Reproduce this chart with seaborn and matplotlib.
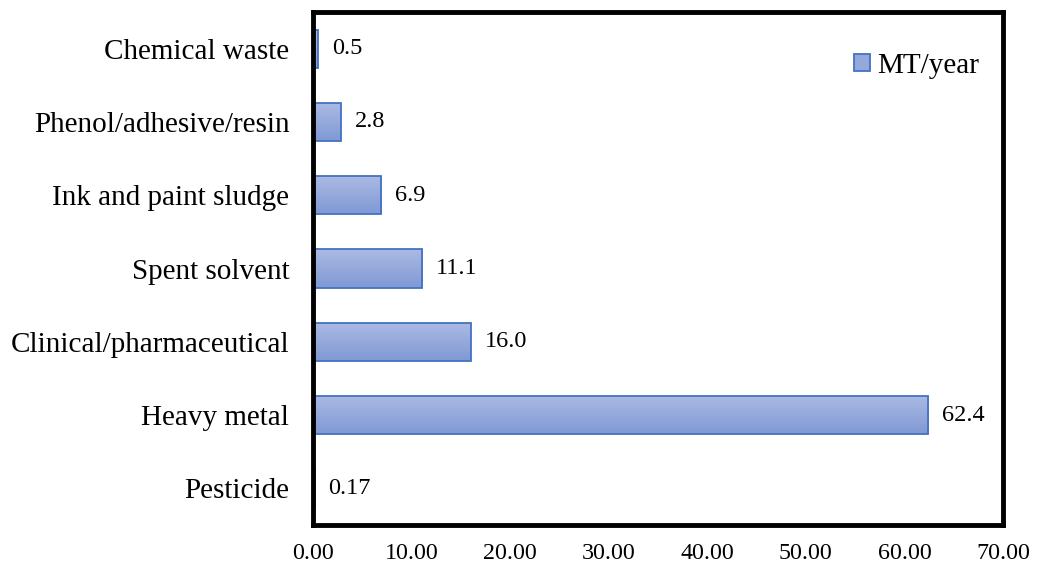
import numpy as np
import pandas as pd
import matplotlib
matplotlib.use("Agg")
import matplotlib.pyplot as plt
import seaborn as sns
from matplotlib.patches import Patch
from matplotlib.colors import LinearSegmentedColormap

categories = ["Chemical waste", "Phenol/adhesive/resin", "Ink and paint sludge",
              "Spent solvent", "Clinical/pharmaceutical", "Heavy metal", "Pesticide"]
values = [0.5, 2.8, 6.9, 11.1, 16.0, 62.4, 0.17]
decimals = [1, 1, 1, 1, 1, 1, 2]
xticks = [0, 10, 20, 30, 40, 50, 60, 70]
series_name = "MT/year"

sns.set_theme(style="white")
plt.rcParams["font.family"] = ["Liberation Serif", "DejaVu Serif"]
plt.rcParams["text.color"] = "black"
plt.rcParams["xtick.color"] = "black"
plt.rcParams["ytick.color"] = "black"

df = pd.DataFrame({"category": categories, "value": values})

fig = plt.figure(figsize=(10.37, 5.73), dpi=100)
ax = fig.add_axes([0.3018, 0.0838, 0.6654, 0.8952])

edge = "#4472c4"
sns.barplot(data=df, x="value", y="category", orient="h", order=categories,
            color="#94a8dc", edgecolor=edge, linewidth=1.3, width=0.52, ax=ax)

# vertical gradient fill inside each bar
cmap = LinearSegmentedColormap.from_list("barfill", ["#abbae3", "#8099d5"])
grad = np.linspace(0, 1, 64).reshape(-1, 1)
for p in list(ax.patches):
    x0, y0 = p.get_x(), p.get_y()
    w, h = p.get_width(), p.get_height()
    im = ax.imshow(grad, cmap=cmap, aspect="auto", extent=(x0, x0 + w, y0 + h, y0),
                   origin="upper", zorder=p.get_zorder() - 0.1)
    im.set_clip_path(p)
    p.set_facecolor("none")

ax.set_xlim(0, 70)
ax.set_ylim(len(categories) - 0.5, -0.5)

for i, (v, d) in enumerate(zip(values, decimals)):
    ax.annotate(f"{v:.{d}f}", xy=(v, i), xytext=(10, 0), textcoords="offset points",
                va="center", ha="left", fontsize=17.5, color="black")

ax.set_xticks(xticks)
ax.set_xticklabels([f"{t:.2f}" for t in xticks], fontsize=17.3)
ax.tick_params(axis="y", labelsize=21, length=0, pad=17)
ax.tick_params(axis="x", direction="out", length=4, width=2.5, color="black", pad=9)
ax.set_xlabel("")
ax.set_ylabel("")

for s in ax.spines.values():
    s.set_visible(True)
    s.set_color("black")
    s.set_linewidth(3.5)

handle = Patch(facecolor="#94a8dc", edgecolor=edge, linewidth=1.3)
ax.legend([handle], [series_name], loc="upper right", bbox_to_anchor=(1.004, 0.972),
          frameon=False, fontsize=21, handlelength=0.55, handleheight=0.55,
          handletextpad=0.25, labelcolor="black")

fig.savefig("out.png", dpi=100)
